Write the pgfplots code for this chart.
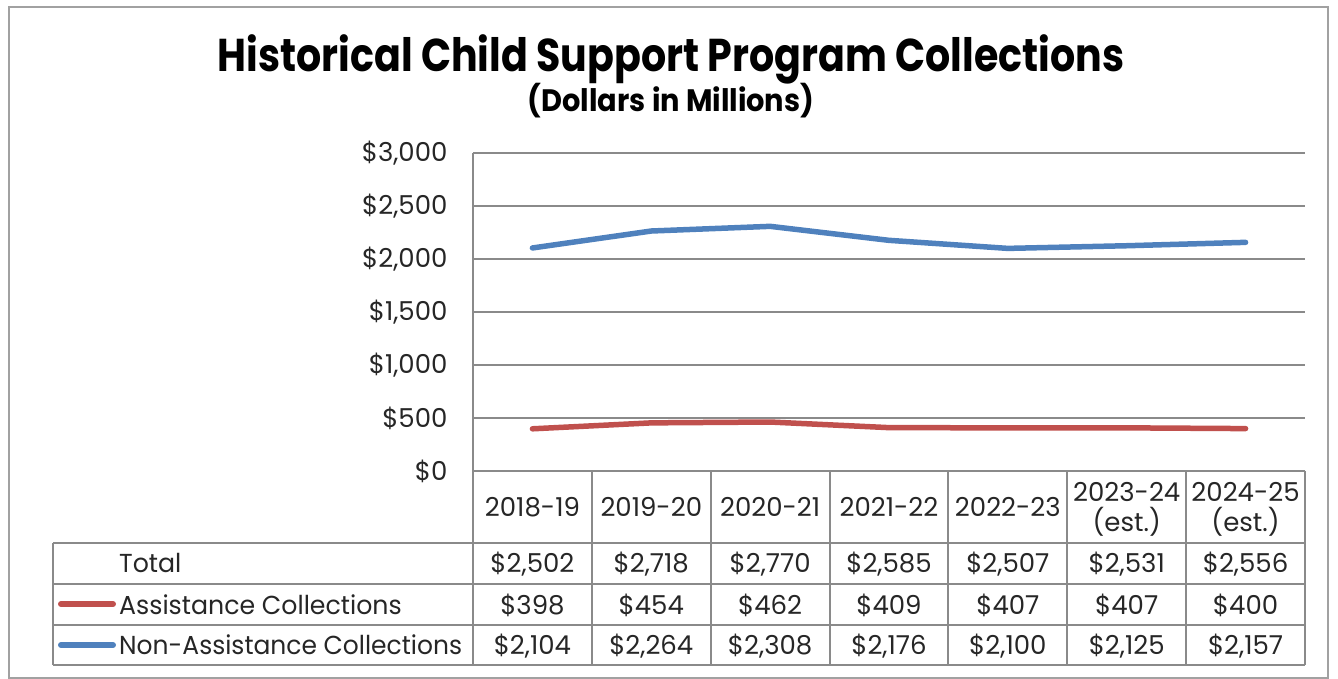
\documentclass[border=0pt]{standalone}
\usepackage{fontspec}
\setmainfont{Poppins}
\usepackage{pgfplots}
\pgfplotsset{compat=1.18}
\definecolor{ared}{HTML}{C0504D}
\definecolor{ablue}{HTML}{4F81BD}
\definecolor{gridg}{HTML}{8A8A8A}
\definecolor{txt}{HTML}{262626}
\newcommand\tabfont{\fontsize{26}{30}\selectfont}
\newcommand\cell[3]{\node[anchor=base, font=\tabfont, text=txt, inner sep=0pt] at ({473+118.857*(#1+0.5)},{679-#2}) {#3};}
\begin{document}
\begin{tikzpicture}[x=1pt,y=1pt]
\useasboundingbox (0,0) rectangle (1338,679);
\draw[gridg!80, line width=2] (9,{679-7}) rectangle (1328,{679-678});
\node[font=\bfseries\fontsize{46}{50}\selectfont, anchor=base, inner sep=0pt] at (671,{679-72}) {\scalebox{0.86}[1]{Historical Child Support Program Collections}};
\node[font=\bfseries\fontsize{31}{34}\selectfont, anchor=base, inner sep=0pt] at (671,{679-112}) {\scalebox{0.93}[1]{(Dollars in Millions)}};
\begin{axis}[at={(473pt,208pt)}, anchor=south west, scale only axis,
  width=832pt, height=318pt,
  xmin=-0.5, xmax=6.5, ymin=0, ymax=3000,
  xtick=\empty, ytick={0,500,1000,1500,2000,2500,3000},
  yticklabels={{\$0},{\$500},{\$1,000},{\$1,500},{\$2,000},{\$2,500},{\$3,000}},
  axis x line*=bottom, axis y line*=left,
  axis line style={gridg, line width=2pt, -},
  ymajorgrids, grid style={gridg, line width=2pt},
  major tick length=0pt,
  yticklabel style={font=\tabfont, text=txt, anchor=east, xshift=-22pt},
  clip=false]
\addplot[ablue, line width=5.5pt, line cap=round, line join=round] coordinates {(0,2104) (1,2264) (2,2308) (3,2176) (4,2100) (5,2125) (6,2157)};
\addplot[ared, line width=5.5pt, line cap=round, line join=round] coordinates {(0,398) (1,454) (2,462) (3,409) (4,407) (5,407) (6,400)};
\end{axis}
% table grid
\begin{scope}[gridg, line width=2]
\foreach \yy in {543,584,625,665} \draw (53,{679-\yy}) -- (1305,{679-\yy});
\draw (53,{679-543}) -- (53,{679-665});
\foreach \xx in {473,591.857,710.714,829.571,948.428,1067.285,1186.142,1305} \draw (\xx,{679-471}) -- (\xx,{679-665});
\end{scope}
% header
\cell{0}{517}{2018-19}
\cell{1}{517}{2019-20}
\cell{2}{517}{2020-21}
\cell{3}{517}{2021-22}
\cell{4}{517}{2022-23}
\cell{5}{502}{2023-24}
\cell{5}{532}{(est.)}
\cell{6}{502}{2024-25}
\cell{6}{532}{(est.)}
% rows
\node[anchor=base west, font=\tabfont, text=txt, inner sep=0pt] at (119,{679-573}) {\scalebox{0.97}[1]{Total}};
\node[anchor=base west, font=\tabfont, text=txt, inner sep=0pt] at (119,{679-615}) {\scalebox{0.97}[1]{Assistance Collections}};
\node[anchor=base west, font=\tabfont, text=txt, inner sep=0pt] at (119,{679-655}) {\scalebox{0.96}[1]{Non-Assistance Collections}};
\draw[ared, line width=6, line cap=round] (61,{679-604}) -- (113,{679-604});
\draw[ablue, line width=6, line cap=round] (61,{679-645}) -- (113,{679-645});
\cell{0}{573}{\$2,502}
\cell{1}{573}{\$2,718}
\cell{2}{573}{\$2,770}
\cell{3}{573}{\$2,585}
\cell{4}{573}{\$2,507}
\cell{5}{573}{\$2,531}
\cell{6}{573}{\$2,556}
\cell{0}{615}{\$398}
\cell{1}{615}{\$454}
\cell{2}{615}{\$462}
\cell{3}{615}{\$409}
\cell{4}{615}{\$407}
\cell{5}{615}{\$407}
\cell{6}{615}{\$400}
\cell{0}{655}{\$2,104}
\cell{1}{655}{\$2,264}
\cell{2}{655}{\$2,308}
\cell{3}{655}{\$2,176}
\cell{4}{655}{\$2,100}
\cell{5}{655}{\$2,125}
\cell{6}{655}{\$2,157}
\end{tikzpicture}
\end{document}
